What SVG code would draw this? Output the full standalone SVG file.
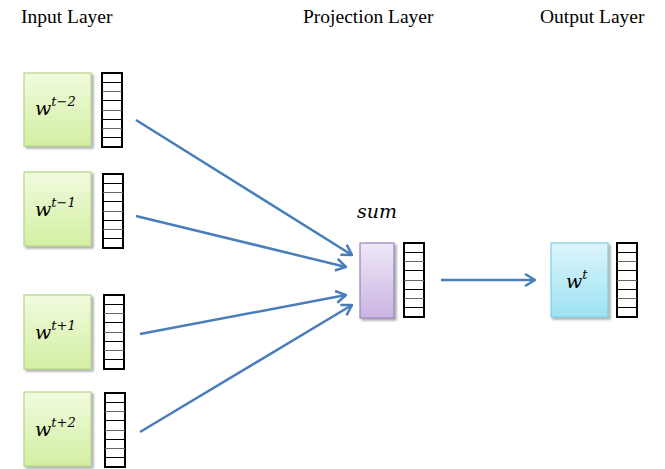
<svg xmlns="http://www.w3.org/2000/svg" width="665" height="469" viewBox="0 0 665 469">
  <defs>
    <linearGradient id="gGreen" x1="0" y1="0" x2="0" y2="1">
      <stop offset="0" stop-color="#f1fbdf"/>
      <stop offset="1" stop-color="#d3efa2"/>
    </linearGradient>
    <linearGradient id="gPurple" x1="0" y1="0" x2="0" y2="1">
      <stop offset="0" stop-color="#efe8f7"/>
      <stop offset="1" stop-color="#c9b4e2"/>
    </linearGradient>
    <linearGradient id="gBlue" x1="0" y1="0" x2="0" y2="1">
      <stop offset="0" stop-color="#dcf5fb"/>
      <stop offset="1" stop-color="#9ee2f3"/>
    </linearGradient>
    <filter id="shadow" x="-20%" y="-20%" width="150%" height="150%">
      <feGaussianBlur in="SourceAlpha" stdDeviation="1.2"/>
      <feOffset dx="1.5" dy="2" result="b"/>
      <feComponentTransfer><feFuncA type="linear" slope="0.35"/></feComponentTransfer>
      <feMerge><feMergeNode/><feMergeNode in="SourceGraphic"/></feMerge>
    </filter>
    <marker id="chev" viewBox="0 0 12 14" refX="11" refY="7" markerWidth="12" markerHeight="14" markerUnits="userSpaceOnUse" orient="auto">
      <path d="M1,1 L11,7 L1,13" fill="none" stroke="#4a7ebb" stroke-width="2.5" stroke-linejoin="miter"/>
    </marker>
    <!-- 8-cell vector strip, 20 x 74 -->
    <g id="vec">
      <rect x="0" y="0" width="20" height="74" fill="#fff" stroke="#000" stroke-width="2"/>
      <g stroke-width="1.5" shape-rendering="crispEdges">
        <line x1="0" y1="9.5" x2="20" y2="9.5" stroke="#000"/>
        <line x1="0" y1="18.5" x2="20" y2="18.5" stroke="#666"/>
        <line x1="0" y1="27.5" x2="20" y2="27.5" stroke="#000"/>
        <line x1="0" y1="37.5" x2="20" y2="37.5" stroke="#666"/>
        <line x1="0" y1="46.5" x2="20" y2="46.5" stroke="#000"/>
        <line x1="0" y1="55.5" x2="20" y2="55.5" stroke="#666"/>
        <line x1="0" y1="64.5" x2="20" y2="64.5" stroke="#000"/>
      </g>
    </g>
  </defs>
  <style>
    .title { font-family: "Liberation Serif", "Times New Roman", serif; font-size: 19.5px; fill: #000; }
    .math { font-family: "DejaVu Serif", "Liberation Serif", serif; font-style: italic; fill: #000; }
    .w { font-size: 19px; }
    .sup { font-size: 13px; }
    .green { fill: url(#gGreen); stroke: #b5d48a; stroke-width: 1.2; filter: url(#shadow); }
    .purple { fill: url(#gPurple); stroke: #9a83bb; stroke-width: 1.2; filter: url(#shadow); }
    .blue { fill: url(#gBlue); stroke: #7fcfe2; stroke-width: 1.2; filter: url(#shadow); }
    .edge { fill: none; stroke: #4a7ebb; stroke-width: 2.5; marker-end: url(#chev); }
  </style>
  <rect width="665" height="469" fill="#fff"/>

  <!-- column headings -->
  <text class="title" x="21" y="23">Input Layer</text>
  <text class="title" x="303" y="23">Projection Layer</text>
  <text class="title" x="540" y="23">Output Layer</text>

  <!-- input words -->
  <g id="in-tm2">
    <rect class="green" x="24" y="73" width="67" height="73"/>
    <text class="math" x="35" y="115"><tspan class="w">w</tspan><tspan class="sup" dy="-9">t−2</tspan></text>
    <use href="#vec" x="102" y="73"/>
  </g>
  <g id="in-tm1">
    <rect class="green" x="24" y="172" width="67" height="74"/>
    <text class="math" x="35" y="216"><tspan class="w">w</tspan><tspan class="sup" dy="-9">t−1</tspan></text>
    <use href="#vec" x="103" y="174"/>
  </g>
  <g id="in-tp1">
    <rect class="green" x="24" y="295" width="67" height="74"/>
    <text class="math" x="35" y="339"><tspan class="w">w</tspan><tspan class="sup" dy="-9">t+1</tspan></text>
    <use href="#vec" x="104" y="295"/>
  </g>
  <g id="in-tp2">
    <rect class="green" x="24" y="392" width="67" height="74"/>
    <text class="math" x="35" y="436"><tspan class="w">w</tspan><tspan class="sup" dy="-9">t+2</tspan></text>
    <use href="#vec" x="105" y="393"/>
  </g>

  <!-- projection -->
  <g id="proj">
    <text class="math" x="357" y="218" font-size="19">sum</text>
    <rect class="purple" x="360" y="243" width="34" height="75"/>
    <use href="#vec" x="404" y="243"/>
  </g>

  <!-- output word -->
  <g id="out-t">
    <rect class="blue" x="551" y="243" width="57" height="74"/>
    <text class="math" x="566" y="288"><tspan class="w">w</tspan><tspan class="sup" dy="-9">t</tspan></text>
    <use href="#vec" x="617" y="243"/>
  </g>

  <!-- connectors -->
  <g id="edges">
    <line class="edge" x1="136" y1="120" x2="352" y2="255"/>
    <line class="edge" x1="136" y1="216" x2="346" y2="267"/>
    <line class="edge" x1="140" y1="334" x2="346" y2="295"/>
    <line class="edge" x1="140" y1="432" x2="352" y2="305"/>
    <line class="edge" x1="441" y1="280" x2="535" y2="280"/>
  </g>
</svg>
